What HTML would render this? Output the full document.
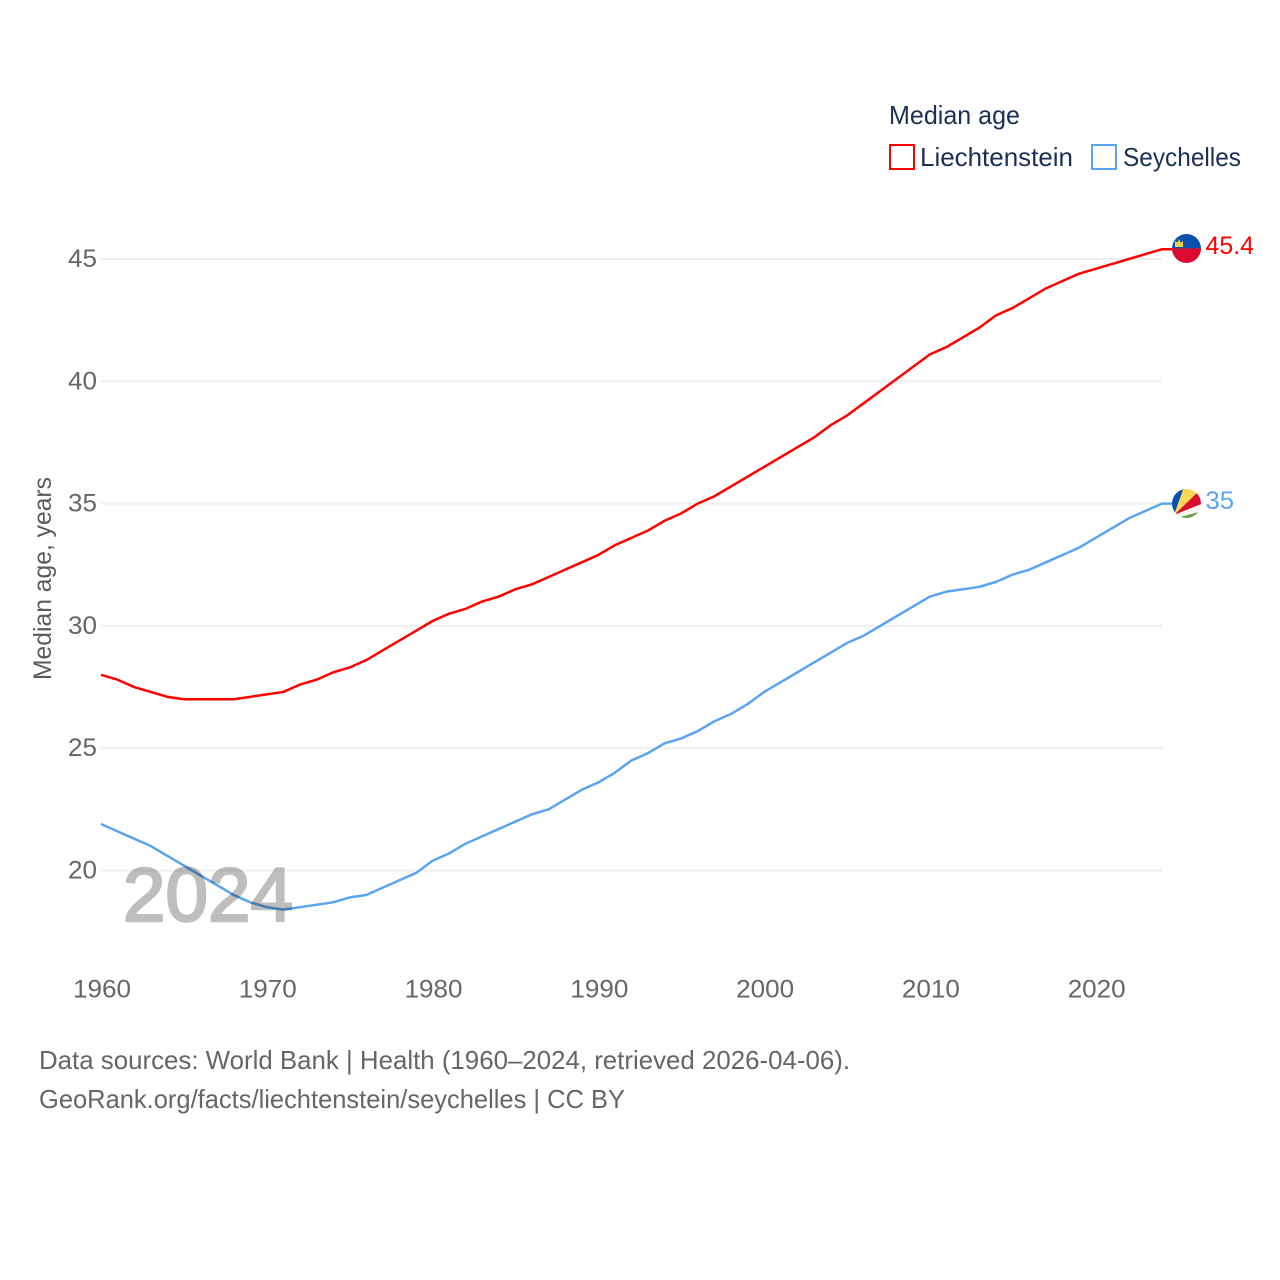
<!DOCTYPE html>
<html>
<head>
<meta charset="utf-8">
<title>Median age: Liechtenstein and Seychelles</title>
<style>
html,body{margin:0;padding:0;background:#fff;}
svg{display:block;font-family:"Liberation Sans",sans-serif;}
</style>
</head>
<body>
<svg id="chart" width="1280" height="1280" viewBox="0 0 1280 1280" xmlns="http://www.w3.org/2000/svg">
  <defs>
    <clipPath id="clip-li"><circle cx="1186.5" cy="248.5" r="14.5"/></clipPath>
    <clipPath id="clip-sc"><circle cx="1186.5" cy="503.5" r="14.5"/></clipPath>
  </defs>
  <rect width="1280" height="1280" fill="#fff"/>
  <g id="grid"></g>
  <g id="yticks"></g>
  <g id="xticks"></g>
  <g id="series"></g>

  <text x="123" y="921" font-size="76" fill="#000" stroke="#000" stroke-width="2.500" opacity="0.25" textLength="170" lengthAdjust="spacingAndGlyphs">2024</text>

  <text transform="translate(51,680) rotate(-90)" font-size="25" fill="#5b5b5b" textLength="203" lengthAdjust="spacingAndGlyphs">Median age, years</text>

  <text x="889" y="124" font-size="26" fill="#1a3055" textLength="131" lengthAdjust="spacingAndGlyphs">Median age</text>
  <rect x="890" y="145" width="24" height="24" fill="#fff" stroke="#ff0000" stroke-width="2"/>
  <text x="920" y="166" font-size="26" fill="#1a3055" textLength="153" lengthAdjust="spacingAndGlyphs">Liechtenstein</text>
  <rect x="1092" y="145" width="24" height="24" fill="#fff" stroke="#5ba4ee" stroke-width="2"/>
  <text x="1123" y="166" font-size="26" fill="#1a3055" textLength="118" lengthAdjust="spacingAndGlyphs">Seychelles</text>

  <g clip-path="url(#clip-li)">
    <rect x="1170" y="232" width="34" height="16.5" fill="#0b50ac"/>
    <rect x="1170" y="248.500" width="34" height="16.5" fill="#dc0a2e"/>
    <rect x="1170" y="248" width="34" height="1.500" fill="#a8214f"/>
    <path d="M1175 247v-6l2.500 1.500 1.500-3.500 1.500 3.500 2.500-1.500v6z" fill="#f5cf4a"/>
  </g>
  <g clip-path="url(#clip-sc)">
    <rect x="1170" y="487" width="34" height="34" fill="#f2f2f2"/>
    <path d="M1174 515 L1170 515 L1170 487 L1186 487 Z" fill="#0b50ac"/>
    <path d="M1174 515 L1184 487 L1197 487 L1199 492 Z" fill="#fcd856"/>
    <path d="M1174 515 L1199 491 L1204 495 L1204 503 Z" fill="#d8102f"/>
    <path d="M1174 515 L1204 503 L1204 511 Z" fill="#f2f2f2"/>
    <path d="M1176 517 L1204 509 L1204 524 L1170 524 Z" fill="#ffffff"/>
    <path d="M1178 517.500 L1204 510.500 L1204 524 L1170 524 Z" fill="#6f9e4b"/>
  </g>

  <text x="1205.5" y="254" font-size="25" fill="#ff0000" textLength="48.5" lengthAdjust="spacingAndGlyphs">45.4</text>
  <text x="1205.5" y="509" font-size="25" fill="#5ba4ee" textLength="28.5" lengthAdjust="spacingAndGlyphs">35</text>

  <text x="39" y="1069" font-size="26" fill="#666" textLength="811" lengthAdjust="spacingAndGlyphs">Data sources: World Bank | Health (1960–2024, retrieved 2026-04-06).</text>
  <text x="39" y="1108" font-size="26" fill="#666" textLength="586" lengthAdjust="spacingAndGlyphs">GeoRank.org/facts/liechtenstein/seychelles | CC BY</text>
</svg>
<script>
const startYear = 1960;
const liechtenstein = [28.0,27.8,27.5,27.3,27.1,27.0,27.0,27.0,27.0,27.1,27.2,27.3,27.6,27.8,28.1,28.3,28.6,29.0,29.4,29.8,30.2,30.5,30.7,31.0,31.2,31.5,31.7,32.0,32.3,32.6,32.9,33.3,33.6,33.9,34.3,34.6,35.0,35.3,35.7,36.1,36.5,36.9,37.3,37.7,38.2,38.6,39.1,39.6,40.1,40.6,41.1,41.4,41.8,42.2,42.7,43.0,43.4,43.8,44.1,44.4,44.6,44.8,45.0,45.2,45.4];
const seychelles = [21.9,21.6,21.3,21.0,20.6,20.2,19.8,19.4,19.0,18.7,18.5,18.4,18.5,18.6,18.7,18.9,19.0,19.3,19.6,19.9,20.4,20.7,21.1,21.4,21.7,22.0,22.3,22.5,22.9,23.3,23.6,24.0,24.5,24.8,25.2,25.4,25.7,26.1,26.4,26.8,27.3,27.7,28.1,28.5,28.9,29.3,29.6,30.0,30.4,30.8,31.2,31.4,31.5,31.6,31.8,32.1,32.3,32.6,32.9,33.2,33.6,34.0,34.4,34.7,35.0];
const yTickValues = [20,25,30,35,40,45];
const xTickValues = [1960,1970,1980,1990,2000,2010,2020];

const NS = 'http://www.w3.org/2000/svg';
function xScale(year){ return 101 + (year - 1960) * (1061 / 64); }
function yScale(v){ return 870.5 - (v - 20) * (611.5 / 25); }

const gridG = document.getElementById('grid');
const yG = document.getElementById('yticks');
const xG = document.getElementById('xticks');
const seriesG = document.getElementById('series');

yTickValues.forEach(function(v){
  const line = document.createElementNS(NS,'line');
  line.setAttribute('x1', 101);
  line.setAttribute('x2', 1162);
  line.setAttribute('y1', yScale(v));
  line.setAttribute('y2', yScale(v));
  line.setAttribute('stroke', '#f0f0f0');
  line.setAttribute('stroke-width', 2);
  
  
  gridG.appendChild(line);

  const t = document.createElementNS(NS,'text');
  t.setAttribute('x', 97);
  t.setAttribute('y', yScale(v) + 8);
  t.setAttribute('text-anchor', 'end');
  t.setAttribute('font-size', 25);
  t.setAttribute('fill', '#666');
  t.setAttribute('textLength', 29);
  t.setAttribute('lengthAdjust', 'spacingAndGlyphs');
  
  
  t.textContent = String(v);
  yG.appendChild(t);
});

xTickValues.forEach(function(y){
  const t = document.createElementNS(NS,'text');
  t.setAttribute('x', xScale(y) + 1);
  t.setAttribute('y', 997.5);
  t.setAttribute('text-anchor', 'middle');
  t.setAttribute('font-size', 25);
  t.setAttribute('fill', '#666');
  t.setAttribute('textLength', 58);
  t.setAttribute('lengthAdjust', 'spacingAndGlyphs');
  
  
  t.textContent = String(y);
  xG.appendChild(t);
});

function drawSeries(values, color, name){
  const pts = values.map(function(v,i){ return xScale(startYear + i).toFixed(2) + ',' + yScale(v).toFixed(2); });
  const last = values[values.length - 1];
  const lastX = xScale(startYear + values.length - 1);
  pts.push((lastX + 10).toFixed(2) + ',' + yScale(last).toFixed(2));
  const p = document.createElementNS(NS,'polyline');
  p.setAttribute('points', pts.join(' '));
  p.setAttribute('fill', 'none');
  p.setAttribute('stroke', color);
  p.setAttribute('stroke-width', 2.5);
  p.setAttribute('stroke-linejoin', 'round');
  
  
  seriesG.appendChild(p);
}
drawSeries(seychelles, '#5ba4ee', 'series-line-seychelles');
drawSeries(liechtenstein, '#ff0000', 'series-line-liechtenstein');
</script>
</body>
</html>
